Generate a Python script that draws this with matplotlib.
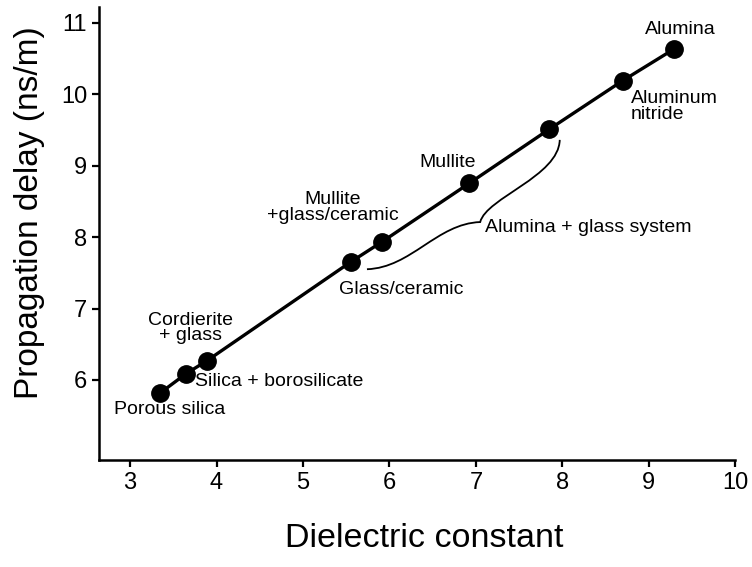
import matplotlib
matplotlib.use("Agg")
import matplotlib.pyplot as plt
from matplotlib.path import Path
from matplotlib.patches import PathPatch

plt.rcParams['font.family'] = ['Liberation Sans', 'DejaVu Sans']

# dielectric constant vs propagation delay for substrate materials
materials = ["Porous silica", "Silica + borosilicate", "Cordierite\n+ glass",
             "Glass/ceramic", "Mullite\n+glass/ceramic", "Mullite",
             "", "Aluminum\nnitride", "Alumina"]
dielectric = [3.35, 3.65, 3.89, 5.55, 5.91, 6.92, 7.85, 8.70, 9.29]
delay = [5.82, 6.09, 6.27, 7.65, 7.93, 8.75, 9.51, 10.19, 10.63]

x_ticks = [3, 4, 5, 6, 7, 8, 9, 10]
y_ticks = [6, 7, 8, 9, 10, 11]

# label offsets in points and horizontal alignment
label_style = [
    ((6.5, -11.7), "center"),
    ((6.5, -5.5), "left"),
    ((-12, 23.5), "center"),
    ((36.7, -20), "center"),
    ((-35.3, 24.7), "center"),
    ((-15.1, 15.3), "center"),
    ((0, 0), "center"),
    ((5.5, -18.9), "left"),
    ((4.8, 13.9), "center"),
]

fig = plt.figure(figsize=(7.52, 5.67), dpi=100)
ax = fig.add_axes([0.1316, 0.1887, 0.8461, 0.799])

ax.plot(dielectric, delay, color="black", linewidth=2.4, marker="o",
        markersize=12.5, markerfacecolor="black", markeredgecolor="black",
        solid_capstyle="round", zorder=3)

for name, x, y, (off, ha) in zip(materials, dielectric, delay, label_style):
    if not name:
        continue
    ax.annotate(name, (x, y), xytext=off, textcoords="offset points",
                ha=ha, va="center", multialignment=ha, fontsize=14,
                linespacing=0.9)

# curly brace spanning the alumina + glass group
brace_verts = [(5.74, 7.55), (6.25, 7.57), (6.55, 8.19), (7.05, 8.21),
               (7.12, 8.55), (7.96, 8.85), (7.97, 9.36)]
brace_codes = [Path.MOVETO] + [Path.CURVE4] * 6
ax.add_patch(PathPatch(Path(brace_verts, brace_codes), fill=False,
                       edgecolor="black", linewidth=1.3))
ax.annotate("Alumina + glass system", (7.05, 8.21), xytext=(3.6, -4.1),
            textcoords="offset points", ha="left", va="center", fontsize=14)

ax.set_xlim(2.64, 10)
ax.set_ylim(4.88, 11.22)
ax.set_xticks(x_ticks)
ax.set_yticks(y_ticks)
ax.tick_params(direction="out", length=5, width=1.6, labelsize=17, pad=3.5)

for side in ["top", "right"]:
    ax.spines[side].set_visible(False)
for side in ["left", "bottom"]:
    ax.spines[side].set_linewidth(1.8)

ax.set_xlabel("Dielectric constant", fontsize=24.5)
ax.xaxis.set_label_coords(0.512, -0.14)
ax.set_ylabel("Propagation delay (ns/m)", fontsize=24)
ax.yaxis.set_label_coords(-0.085, 0.545)

fig.savefig("out.png", dpi=100)
